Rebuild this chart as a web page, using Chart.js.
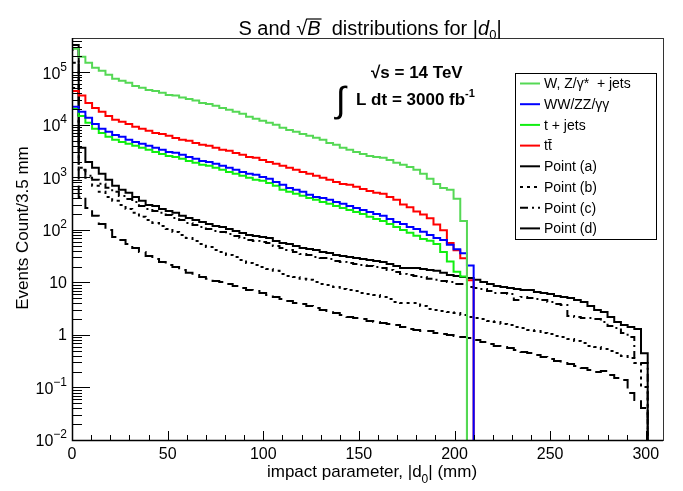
<!DOCTYPE html>
<html>
<head>
<meta charset="utf-8">
<script src="https://cdn.jsdelivr.net/npm/chart.js@4.4.0/dist/chart.umd.min.js"></script>
<style>
  body { margin: 0; background: #fff; }
  #wrap { width: 683px; height: 491px; }
</style>
</head>
<body>
<div id="wrap"><canvas id="d0Chart"></canvas></div>
<script>
// bins are 3.5 mm wide, starting at 0
const binWidth = 3.5;
const yMin = 0.01;
const yMax = 4.5e5;
const xMax = 309;

const wzJets = [2.8e5,1.97e5,1.52e5,1.22e5,1.07e5,9.0e4,7.5e4,6.9e4,6.3e4,5.5e4,5.1e4,4.6e4,4.4e4,4.1e4,3.7e4,3.6e4,3.3e4,3.1e4,2.9e4,2.6e4,
  2.5e4,2.3e4,2.1e4,1.93e4,1.77e4,1.62e4,1.42e4,1.3e4,1.19e4,1.09e4,1.0e4,8.8e3,8.0e3,7.4e3,6.7e3,6.2e3,5.7e3,5.2e3,4.5e3,4.2e3,
  3.65e3,3.35e3,3.05e3,2.8e3,2.55e3,2.45e3,2.35e3,2.15e3,1.9e3,1.73e3,1.58e3,1.39e3,1.17e3,940,750,630,580,390,148];
const dibosons = [2.2e4,1.77e4,1.36e4,1.04e4,8.4e3,7.4e3,6.4e3,5.9e3,5.2e3,4.7e3,4.35e3,4.0e3,3.65e3,3.35e3,3.05e3,2.95e3,2.7e3,2.45e3,2.25e3,2.05e3,
  1.97e3,1.81e3,1.66e3,1.52e3,1.39e3,1.27e3,1.17e3,1.12e3,1.02e3,940,820,720,630,580,530,465,425,405,375,340,
  315,285,260,240,220,200,185,162,142,130,114,104,92,80,70,64,52,43,36,21];
const tJets = [2.0e4,1.48e4,1.09e4,8.4e3,7.0e3,5.9e3,5.2e3,4.7e3,4.35e3,4.0e3,3.65e3,3.35e3,3.05e3,2.8e3,2.55e3,2.45e3,2.25e3,2.05e3,1.9e3,1.73e3,
  1.66e3,1.52e3,1.39e3,1.27e3,1.17e3,1.07e3,980,900,860,785,690,580,530,485,445,405,375,340,315,285,
  260,240,220,200,177,162,148,130,114,100,88,77,67,62,54,38,25,16,13];
const ttbar = [4.4e4,3.6e4,2.6e4,2.1e4,1.77e4,1.48e4,1.25e4,1.14e4,1.04e4,9.2e3,8.4e3,7.7e3,7.0e3,6.7e3,6.2e3,5.6e3,5.2e3,5.0e3,4.5e3,4.2e3,
  4.0e3,3.65e3,3.35e3,3.2e3,2.9e3,2.7e3,2.45e3,2.35e3,2.15e3,1.97e3,1.81e3,1.66e3,1.52e3,1.39e3,1.27e3,1.17e3,1.07e3,980,900,820,
  750,720,660,600,550,510,485,425,375,305,270,225,197,166,127,98,56,41,29,11];
const pointA = [3.3e5,3650,1970,1520,1170,896,689,578,507,425,357,299,286,251,230,211,185,169,155,142,
  130,119,114,104,95.7,87.7,80.3,76.9,73.6,70.4,61.7,56.5,54.1,49.6,45.4,43.4,41.6,38.1,36.5,33.4,
  32,30.6,29.3,28,26.8,25.7,24.6,22.5,20.6,18.9,18.9,18.9,18.1,17.3,16.6,15.2,13.9,13.3,12.7,12.2,
  11.2,10.2,9.36,8.57,8.2,7.85,7.52,7.19,7.19,6.59,6.31,6.04,5.53,5.29,5.07,4.64,4.25,3.57,2.99,2.74,
  2.2,1.77,1.55,1.42,1.3,0.45];
const pointB = [1.52e5,1520,978,689,530,425,357,299,251,211,177,155,136,119,104,91.6,80.3,70.4,61.7,54.1,
  47.4,41.6,38.1,33.4,30.6,26.8,23.5,21.5,19.7,18.1,16.6,14.5,13.3,12.7,11.7,11.2,10.2,9.36,8.96,8.2,
  7.52,7.19,6.89,6.31,6.04,5.78,5.29,4.85,4.25,4.07,4.07,4.07,3.57,3.13,2.99,2.86,2.74,2.62,2.4,2.2,
  2.11,2.02,1.85,1.77,1.62,1.55,1.42,1.36,1.24,1.19,1.09,1.04,0.957,0.916,0.839,0.769,0.705,0.617,0.59,0.541,
  0.495,0.454,0.398,0.365,0.293,0.102];
const pointC = [2.7e5,1390,1070,896,752,631,530,444,389,341,286,251,230,211,193,169,155,136,124,114,
  104,95.7,91.6,83.9,76.9,70.4,64.5,61.7,59.1,56.5,49.6,45.4,41.6,38.1,34.9,33.4,30.6,29.3,28,25.7,
  24.6,23.5,22.5,21.5,20.6,19.7,18.9,17.3,15.8,14.5,13.9,13.3,12.7,11.7,11.2,10.7,10.2,9.36,9.36,8.2,
  7.85,7.52,6.89,6.31,6.31,6.04,4.64,5.29,5.07,4.85,4.64,4.25,3.89,3.73,2.3,2.2,2.11,2.11,2.02,1.77,
  1.48,1.36,1.09,0.916,0.293,0.293];
const pointD = [5e4,425,262,185,130,100,73.6,64.5,54.1,45.4,38.1,32,28,24.6,21.5,19.7,17.3,15.2,13.9,12.7,
  11.7,10.7,10.2,9.36,8.57,7.85,7.19,6.89,6.31,5.78,5.29,4.85,4.44,4.07,3.89,3.57,3.27,2.99,2.86,2.62,
  2.4,2.2,2.11,2.02,1.85,1.77,1.69,1.62,1.55,1.42,1.3,1.24,1.19,1.19,1.09,1.04,1.0,0.957,0.916,0.877,
  0.8,0.736,0.674,0.617,0.59,0.565,0.518,0.474,0.454,0.416,0.381,0.349,0.32,0.293,0.28,0.257,0.235,0.215,0.197,0.206,
  0.173,0.152,0.139,0.0785,0.0578,0.0407];

const xTickValues = [0,10,20,30,40,50,60,70,80,90,100,110,120,130,140,150,160,170,180,190,200,210,220,230,240,250,260,270,280,290,300];
const xTickLabels = ['0','50','100','150','200','250','300'];
const yTickValues = [0.01,0.1,1,10,100,1000,10000,100000];
const yTickLabels = ['10^\u22122','10^\u22121','1','10','10^2','10^3','10^4','10^5'];

const FONT = '"Liberation Sans", Arial, Helvetica, sans-serif';

// histogram outline: rise from the floor at 0, one step per bin, fall back to the floor
function histo(values) {
  const pts = [{x: 0, y: yMin}];
  values.forEach((v, i) => pts.push({x: i * binWidth, y: v}));
  pts.push({x: values.length * binWidth, y: yMin});
  return pts;
}

function line(label, values, color, dash, legendDash) {
  return {
    label: label,
    data: histo(values),
    borderColor: color,
    borderWidth: 2,
    borderDash: dash || [],
    legendDash: legendDash || dash || [],
    borderJoinStyle: 'miter',
    borderCapStyle: 'butt',
    stepped: 'before',
    pointRadius: 0,
    fill: false,
    tension: 0
  };
}

function drawRich(ctx, parts, x, y, align) {
  let w = 0;
  parts.forEach(p => { ctx.font = p.font; p.w = ctx.measureText(p.t).width; w += p.w; });
  let cx = align === 'center' ? x - w / 2 : x;
  parts.forEach(p => {
    ctx.font = p.font;
    ctx.fillText(p.t, cx, y + (p.dy || 0));
    if (p.bar) {
      ctx.beginPath();
      ctx.lineWidth = 1.2;
      ctx.moveTo(cx - 1, y - p.bar);
      ctx.lineTo(cx + p.w + 1, y - p.bar);
      ctx.stroke();
    }
    cx += p.w;
  });
}

const rootStyle = {
  id: 'rootStyle',
  afterDatasetsDraw(chart) {
    const {ctx, chartArea: a, scales: {x, y}} = chart;
    ctx.save();
    ctx.strokeStyle = '#000';
    ctx.fillStyle = '#000';

    // y tick marks, pointing into the frame
    ctx.lineWidth = 1;
    y.ticks.forEach(t => {
      const lg = Math.log10(t.value);
      const major = Math.abs(lg - Math.round(lg)) < 1e-6;
      const py = Math.round(y.getPixelForValue(t.value)) + 0.5;
      ctx.beginPath();
      ctx.moveTo(a.left, py);
      ctx.lineTo(a.left + (major ? 18 : 10), py);
      ctx.stroke();
    });
    // x tick marks
    x.ticks.forEach(t => {
      const px = Math.round(x.getPixelForValue(t.value)) + 0.5;
      ctx.beginPath();
      ctx.moveTo(px, a.bottom);
      ctx.lineTo(px, a.bottom - (t.value % 50 === 0 ? 9 : 5));
      ctx.stroke();
    });

    // frame
    ctx.lineWidth = 1;
    ctx.strokeStyle = '#333';
    ctx.strokeRect(a.left + 0.5, a.top + 0.5, a.right - a.left, a.bottom - a.top);
    ctx.strokeStyle = '#000';
    ctx.lineWidth = 1.5;
    ctx.beginPath();
    ctx.moveTo(a.left + 0.5, a.top);
    ctx.lineTo(a.left + 0.5, a.bottom + 0.5);
    ctx.lineTo(a.right, a.bottom + 0.5);
    ctx.stroke();

    // y labels: 10 with raised exponent
    ctx.textAlign = 'right';
    ctx.textBaseline = 'middle';
    yTickValues.forEach((v, i) => {
      const py = y.getPixelForValue(v);
      const [base, exp] = yTickLabels[i].split('^');
      const right = a.left - 5;
      if (exp) {
        ctx.font = '12px ' + FONT;
        const ew = ctx.measureText(exp).width;
        ctx.fillText(exp, right, py - 5);
        ctx.font = '16px ' + FONT;
        ctx.fillText(base, right - ew, py + 2);
      } else {
        ctx.font = '16px ' + FONT;
        ctx.fillText(base, right, py + 1);
      }
    });
    ctx.restore();
  },
  afterDraw(chart) {
    const {ctx} = chart;
    ctx.save();
    ctx.fillStyle = '#000';
    ctx.strokeStyle = '#000';
    ctx.textBaseline = 'alphabetic';
    ctx.textAlign = 'left';

    // title
    drawRich(ctx, [
      {t: 'S and ', font: '20px ' + FONT},
      {t: '\u221A', font: '20px ' + FONT},
      {t: 'B', font: 'italic 20px ' + FONT, bar: 16},
      {t: '  distributions for |', font: '20px ' + FONT},
      {t: 'd', font: 'italic 20px ' + FONT},
      {t: '0', font: '13px ' + FONT, dy: 4},
      {t: '|', font: '20px ' + FONT}
    ], 370, 35, 'center');

    // x title
    drawRich(ctx, [
      {t: 'impact parameter, |d', font: '17px ' + FONT},
      {t: '0', font: '12px ' + FONT, dy: 6},
      {t: '| (mm)', font: '17px ' + FONT}
    ], 372, 477, 'center');

    // y title
    ctx.save();
    ctx.translate(28, 228);
    ctx.rotate(-Math.PI / 2);
    ctx.textAlign = 'center';
    ctx.font = '17px ' + FONT;
    ctx.fillText('Events Count/3.5 mm', 0, 0);
    ctx.restore();

    // energy / luminosity text
    drawRich(ctx, [
      {t: '\u221A', font: 'bold 17px ' + FONT},
      {t: 's = 14 TeV', font: 'bold 17px ' + FONT}
    ], 371, 78, 'left');
    ctx.font = '36px ' + FONT;
    ctx.fillText('\u222B', 336, 112);
    drawRich(ctx, [
      {t: 'L dt = 3000 fb', font: 'bold 17px ' + FONT},
      {t: '-1', font: 'bold 11px ' + FONT, dy: -8}
    ], 356, 105, 'left');

    // legend box
    const lx = 515, ly = 73, lw = 141, lh = 166;
    ctx.fillStyle = '#fff';
    ctx.fillRect(lx, ly, lw, lh);
    ctx.lineWidth = 1;
    ctx.strokeStyle = '#000';
    ctx.strokeRect(lx + 0.5, ly + 0.5, lw, lh);
    ctx.font = '14px ' + FONT;
    ctx.textBaseline = 'middle';
    chart.data.datasets.forEach((ds, i) => {
      const ry = ly + 10.5 + i * 20.7;
      ctx.beginPath();
      ctx.setLineDash(ds.legendDash);
      ctx.strokeStyle = ds.borderColor;
      ctx.lineWidth = 2;
      ctx.moveTo(lx + 5, ry);
      ctx.lineTo(lx + 25, ry);
      ctx.stroke();
      ctx.setLineDash([]);
      ctx.fillStyle = '#000';
      ctx.fillText(ds.label, lx + 29, ry + 1);
    });
    ctx.restore();
  }
};

const config = {
  type: 'line',
  data: {
    datasets: [
      line('W, Z/\u03B3*  + jets', wzJets, '#55d855'),
      line('WW/ZZ/\u03B3\u03B3', dibosons, '#0000ff'),
      line('t + jets', tJets, '#11ee11'),
      line('tt\u0304', ttbar, '#ff0000'),
      line('Point (a)', pointA, '#000000'),
      line('Point (b)', pointB, '#000000', [3, 4]),
      line('Point (c)', pointC, '#000000', [8, 4, 2, 4]),
      line('Point (d)', pointD, '#000000', [13, 6], [])
    ]
  },
  options: {
    responsive: true,
    maintainAspectRatio: false,
    animation: false,
    layout: { padding: { left: 0, right: 20, top: 38, bottom: 0 } },
    plugins: {
      legend: { display: false },
      title: { display: false },
      tooltip: { enabled: false }
    },
    scales: {
      x: {
        type: 'linear',
        min: 0,
        max: xMax,
        grid: { display: false, drawTicks: false },
        border: { display: false },
        afterBuildTicks: s => { s.ticks = xTickValues.map(v => ({value: v})); },
        afterFit: s => { s.height = 51; },
        ticks: {
          autoSkip: false,
          maxRotation: 0,
          padding: 5,
          color: '#000',
          font: { family: FONT, size: 16 },
          callback: v => (xTickLabels.includes(String(v)) ? String(v) : '')
        }
      },
      y: {
        type: 'logarithmic',
        min: yMin,
        max: yMax,
        grid: { display: false, drawTicks: false },
        border: { display: false },
        afterBuildTicks: s => {
          const ticks = [];
          for (let e = -2; e <= 5; e++) {
            for (let m = 1; m <= 9; m++) {
              const v = parseFloat((m * Math.pow(10, e)).toPrecision(3));
              if (v <= yMax) ticks.push({value: v});
            }
          }
          s.ticks = ticks;
        },
        afterFit: s => { s.width = 72; },
        ticks: { display: false }
      }
    }
  },
  plugins: [rootStyle]
};

const d0Chart = new Chart(document.getElementById('d0Chart'), config);
</script>
</body>
</html>
